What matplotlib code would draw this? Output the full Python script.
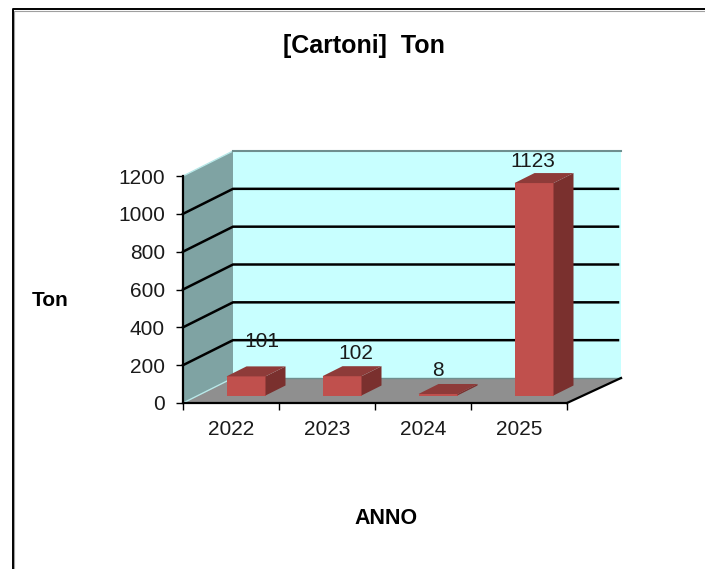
import matplotlib
matplotlib.use('Agg')
import matplotlib.pyplot as plt
from matplotlib.patches import Polygon, Rectangle
from matplotlib.transforms import offset_copy

plt.rcParams['font.family'] = ['Liberation Sans', 'DejaVu Sans']

YEARS = ['2022', '2023', '2024', '2025']
TONS = [101, 102, 8, 1123]
Y_TICKS = [0, 200, 400, 600, 800, 1000, 1200]

# hand placed value labels, pixels from the top back corner of each bar's centre
LABEL_NUDGE = [(16, 25), (14, 13), (0, 13), (-1, 12)]

W, H = 705, 569

# front plane of the fake 3D box, in pixels
LEFT, RIGHT, BOTTOM, TOP = 183, 567, 403, 176

BACK_COLOUR = '#c8ffff'
WALL_COLOUR = '#7fa3a3'
FLOOR_COLOUR = '#8f8f8f'
BAR_FRONT = '#c0504d'
BAR_TOP = '#8e3b39'
BAR_SIDE = '#7a302e'
TEXT_COLOUR = '#1a1a1a'


def add_poly(ax, points, colour, zorder=1):
    ax.add_patch(Polygon(points, closed=True, facecolor=colour, edgecolor='none',
                         linewidth=0, zorder=zorder, clip_on=False))


fig = plt.figure(figsize=(W / 100, H / 100), dpi=100, facecolor='white')
ax = fig.add_axes([LEFT / W, 1 - BOTTOM / H, (RIGHT - LEFT) / W, (BOTTOM - TOP) / H])
ax.set_xlim(0, len(YEARS))
ax.set_ylim(0, 1200)
ax.patch.set_visible(False)

# depth of the box and of the bars, in data units
px_x = 1 / 96
px_y = 1200 / (BOTTOM - TOP)
dx = 50 * px_x
dy = 25 * px_y
n = len(YEARS)
y_max = Y_TICKS[-1]
back_right = n + 54 * px_x
grid_right = n + 51 * px_x

# back wall, side wall, floor
ax.add_patch(Rectangle((dx, dy), back_right - dx, y_max, facecolor=BACK_COLOUR,
                       edgecolor='none', zorder=1, clip_on=False))
add_poly(ax, [(0, 0), (dx, dy), (dx, dy + y_max), (0, y_max)], WALL_COLOUR, zorder=1)
add_poly(ax, [(0, 0), (n, 0), (back_right, dy), (dx, dy)], FLOOR_COLOUR, zorder=1)

# edge highlights and the dark top of the back wall
ax.plot([0, dx], [y_max, y_max + dy], color='#b8e8e8', lw=1, zorder=2, clip_on=False)
ax.plot([0, dx], [0, dy], color='#b8e8e8', lw=1, zorder=2, clip_on=False)
ax.plot([dx, back_right], [y_max + dy, y_max + dy], color='#6f8f8f', lw=1.5, zorder=2, clip_on=False)
ax.plot([dx, back_right], [dy, dy], color='#6f8f8f', lw=1, zorder=2, clip_on=False)

# gridlines run along the side wall and across the back wall
for v in Y_TICKS[1:-1]:
    ax.plot([0, dx, grid_right], [v, v + dy, v + dy], color='black', lw=1.8, zorder=3,
            clip_on=False, solid_joinstyle='miter')

# right edge of the floor
ax.plot([n, back_right], [0, dy], color='black', lw=1.6, zorder=3, clip_on=False)

# bars sit in the middle of the box depth
bar_w = 39 * px_x
shift_x = 15 * px_x
shift_y = 7.5 * px_y
bar_dx = 20 * px_x
bar_dy = 10 * px_y
for i, v in enumerate(TONS):
    x0 = i + 0.5 + shift_x - bar_w / 2
    x1 = x0 + bar_w
    y0 = shift_y
    y1 = y0 + v
    add_poly(ax, [(x0, y0), (x1, y0), (x1, y1), (x0, y1)], BAR_FRONT, zorder=5)
    add_poly(ax, [(x1, y0), (x1 + bar_dx, y0 + bar_dy), (x1 + bar_dx, y1 + bar_dy), (x1, y1)],
             BAR_SIDE, zorder=5)
    add_poly(ax, [(x0, y1), (x1, y1), (x1 + bar_dx, y1 + bar_dy), (x0 + bar_dx, y1 + bar_dy)],
             BAR_TOP, zorder=5)
    nudge_x, nudge_y = LABEL_NUDGE[i]
    label_trans = offset_copy(ax.transData, fig=fig, x=nudge_x, y=nudge_y, units='dots')
    ax.text((x0 + x1) / 2, y1 + bar_dy, str(v), transform=label_trans, ha='center', va='center',
            fontsize=15, color=TEXT_COLOUR, zorder=6, clip_on=False)

# axes
for side in ['top', 'right']:
    ax.spines[side].set_visible(False)
for side in ['left', 'bottom']:
    ax.spines[side].set_linewidth(1.6)
    ax.spines[side].set_zorder(7)
ax.set_yticks(Y_TICKS)
ax.set_xticks(range(n + 1))
ax.set_xticklabels([])
ax.set_xticks([i + 0.5 for i in range(n)], minor=True)
ax.set_xticklabels(YEARS, minor=True)
ax.tick_params(axis='x', which='minor', length=0, pad=12, labelsize=15, labelcolor=TEXT_COLOUR)
ax.tick_params(axis='x', which='major', length=5, width=1, direction='out')
ax.tick_params(axis='y', length=5, width=1, direction='out', pad=8, labelsize=15, labelcolor=TEXT_COLOUR)

fig.text(364 / W, 1 - 45.5 / H, '[Cartoni]  Ton', ha='center', va='center', fontsize=18, fontweight='bold')
fig.text(50 / W, 1 - 300 / H, 'Ton', ha='center', va='center', fontsize=15, fontweight='bold')
fig.text(386 / W, 1 - 519 / H, 'ANNO', ha='center', va='center', fontsize=15.5, fontweight='bold')

# outer frame, open on the right: black line with a thin grey line inside it
frame_x = [14 / W, 14 / W, 1]
frame_y = [0, 1 - 10.5 / H, 1 - 10.5 / H]
fig.add_artist(plt.Line2D(frame_x, frame_y, color='#a0a0a0', lw=0.8))
frame_x = [12.8 / W, 12.8 / W, 1]
frame_y = [0, 1 - 9 / H, 1 - 9 / H]
fig.add_artist(plt.Line2D(frame_x, frame_y, color='black', lw=1.4))

fig.savefig('out.png', dpi=100)
